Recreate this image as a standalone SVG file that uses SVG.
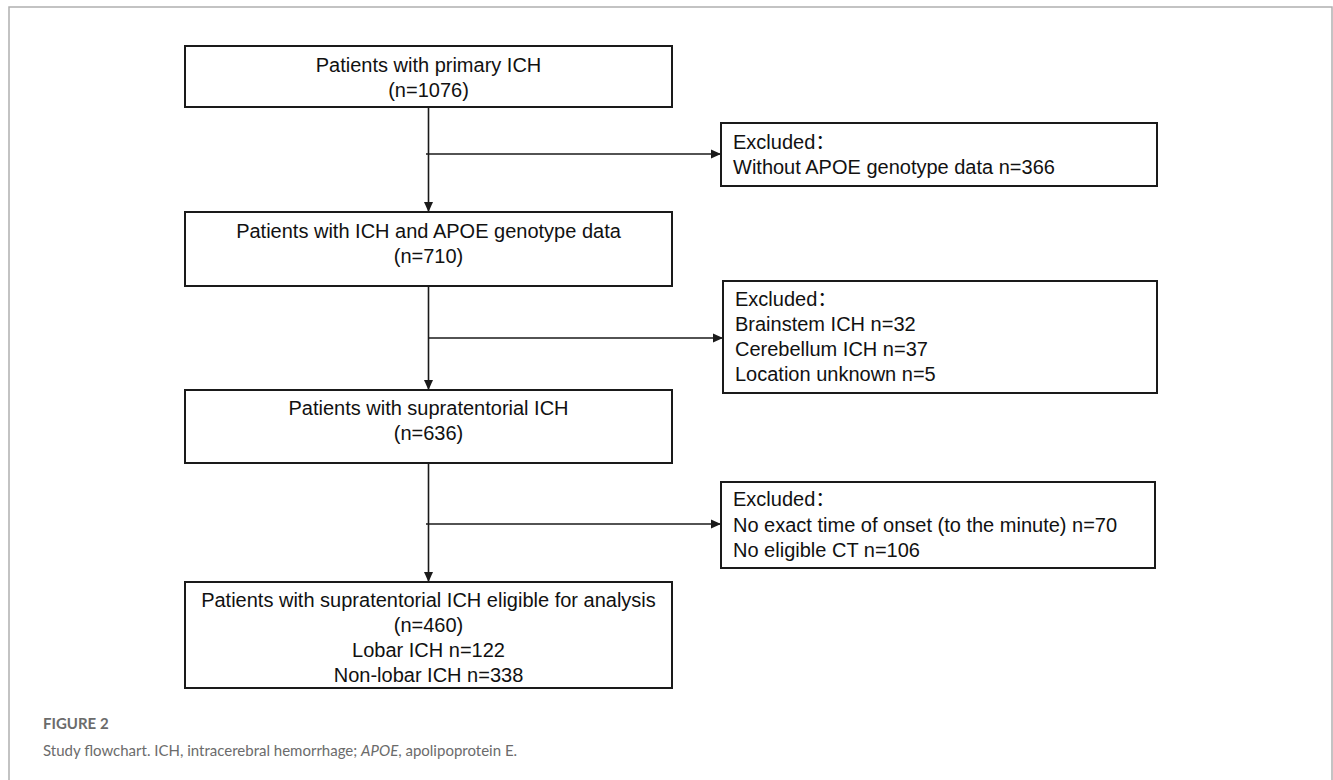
<svg xmlns="http://www.w3.org/2000/svg" width="1333" height="780" viewBox="0 0 1333 780">
<defs>
<style>
.box{fill:#fff;stroke:#1a1a1a;stroke-width:2}
.t{font-family:"Liberation Sans",Arial,"Noto Sans CJK SC",sans-serif;font-size:20px;fill:#111}
.c{text-anchor:middle}
.ln{stroke:#1a1a1a;stroke-width:1.6;fill:none}
.cap{font-family:Lato,"Liberation Sans",Arial,sans-serif;fill:#6b6b6b}
</style>
<marker id="ah" markerUnits="userSpaceOnUse" markerWidth="10" markerHeight="10" viewBox="0 0 10 10" refX="10" refY="5" orient="auto">
<path d="M0,0.5 L10,5 L0,9.5 Z" fill="#1a1a1a"/>
</marker>
</defs>
<rect width="1333" height="780" fill="#fff"/>
<path d="M9,790 V7 H1332 V790" fill="none" stroke="#b0b0b0" stroke-width="1.5"/>

<g id="connectors">
<line class="ln" x1="428.5" y1="107" x2="428.5" y2="212" marker-end="url(#ah)"/>
<line class="ln" x1="426" y1="154" x2="721" y2="154" marker-end="url(#ah)"/>
<line class="ln" x1="428.5" y1="286" x2="428.5" y2="390" marker-end="url(#ah)"/>
<line class="ln" x1="428.5" y1="338" x2="723" y2="338" marker-end="url(#ah)"/>
<line class="ln" x1="428.5" y1="463" x2="428.5" y2="582" marker-end="url(#ah)"/>
<line class="ln" x1="426" y1="524" x2="721" y2="524" marker-end="url(#ah)"/>
</g>

<g id="n1">
<rect class="box" x="185" y="46" width="487" height="61"/>
<text class="t c" x="428.5" y="72">Patients with primary ICH</text>
<text class="t c" x="428.5" y="97">(n=1076)</text>
</g>
<g id="e1">
<rect class="box" x="721" y="123" width="436" height="63"/>
<text class="t" x="733" y="149">Excluded：</text>
<text class="t" x="733" y="174">Without APOE genotype data n=366</text>
</g>
<g id="n2">
<rect class="box" x="185" y="212" width="487" height="74"/>
<text class="t c" x="428.5" y="238">Patients with ICH and APOE genotype data</text>
<text class="t c" x="428.5" y="263">(n=710)</text>
</g>
<g id="e2">
<rect class="box" x="723" y="281" width="434" height="112"/>
<text class="t" x="735" y="306">Excluded：</text>
<text class="t" x="735" y="331">Brainstem ICH n=32</text>
<text class="t" x="735" y="356">Cerebellum ICH n=37</text>
<text class="t" x="735" y="381">Location unknown n=5</text>
</g>
<g id="n3">
<rect class="box" x="185" y="390" width="487" height="73"/>
<text class="t c" x="428.5" y="415">Patients with supratentorial ICH</text>
<text class="t c" x="428.5" y="440">(n=636)</text>
</g>
<g id="e3">
<rect class="box" x="721" y="482" width="434" height="86"/>
<text class="t" x="733" y="506">Excluded：</text>
<text class="t" x="733" y="532">No exact time of onset (to the minute) n=70</text>
<text class="t" x="733" y="557">No eligible CT n=106</text>
</g>
<g id="n4">
<rect class="box" x="185" y="582" width="487" height="106"/>
<text class="t c" x="428.5" y="607">Patients with supratentorial ICH eligible for analysis</text>
<text class="t c" x="428.5" y="632">(n=460)</text>
<text class="t c" x="428.5" y="657">Lobar ICH n=122</text>
<text class="t c" x="428.5" y="682">Non-lobar ICH n=338</text>
</g>

<g id="caption">
<text class="cap" x="43" y="729" font-size="15" font-weight="bold">FIGURE 2</text>
<text class="cap" x="43" y="756" font-size="15">Study flowchart. ICH, intracerebral hemorrhage; <tspan font-style="italic">APOE</tspan>, apolipoprotein E.</text>
</g>
</svg>
